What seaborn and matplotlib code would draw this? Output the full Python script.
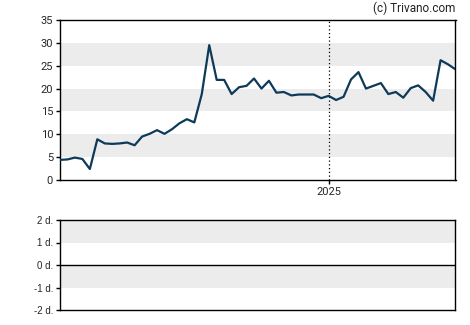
import matplotlib
matplotlib.use("Agg")
import matplotlib.pyplot as plt
import matplotlib.dates as mdates
import seaborn as sns
import pandas as pd
import numpy as np

values = [4.4, 4.5, 4.9, 4.6, 2.4, 8.9, 8.0, 7.9, 8.0, 8.2,
          7.6, 9.5, 10.1, 10.9, 10.1, 11.1, 12.4, 13.3, 12.6, 18.8,
          29.5, 21.9, 21.9, 18.8, 20.3, 20.6, 22.2, 20.0, 21.7, 19.1,
          19.25, 18.5, 18.7, 18.7, 18.7, 17.9, 18.4, 17.5, 18.2, 22.0,
          23.6, 20.0, 20.6, 21.2, 18.8, 19.25, 18.0, 20.1, 20.7, 19.25,
          17.35, 26.2, 25.3, 24.2]
start_date = "2024-04-24"
year_marker = "2025-01-01"
year_label = "2025"
y_ticks = [0, 5, 10, 15, 20, 25, 30, 35]
bands_top = [(5, 10), (15, 20), (25, 30)]
lower_ticks = [-2, -1, 0, 1, 2]
lower_labels = ["-2 d.", "-1 d.", "0 d.", "1 d.", "2 d."]
bands_bottom = [(1, 2), (-1, 0)]
credit = "(c) Trivano.com"

dates = pd.date_range(start=start_date, periods=len(values), freq="7D")
df = pd.DataFrame({"date": dates, "value": values})

sns.set_style("white")
plt.rcParams["font.family"] = ["Roboto", "DejaVu Sans"]

fig = plt.figure(figsize=(4.7, 3.25), dpi=100)
W, H = 470, 325
ax = fig.add_axes([60 / W, 1 - 180 / H, 395.5 / W, 160 / H])
ax2 = fig.add_axes([60 / W, 1 - 310 / H, 395.5 / W, 90 / H])

band_color = "#ececec"
for lo, hi in bands_top:
    ax.axhspan(lo, hi, color=band_color, lw=0, zorder=0)

sns.lineplot(data=df, x="date", y="value", ax=ax, color="#0e3a5a", lw=1.6, zorder=3)
ax.set_xlim(dates[0], dates[-1])
ax.set_ylim(0, 35)
ax.set_yticks(y_ticks)
ax.set_yticklabels([str(t) for t in y_ticks])
ym = pd.Timestamp(year_marker)
ax.axvline(ym, color="black", lw=0.9, ls=(0, (1, 2)), zorder=2)
ax.set_xticks([ym])
ax.set_xticklabels([year_label])
ax.set_xlabel("")
ax.set_ylabel("")
for s in ax.spines.values():
    s.set_color("black")
    s.set_linewidth(1.0)
ax.tick_params(axis="y", length=3, width=1, color="black", labelsize=8, pad=2, left=True)
ax.tick_params(axis="x", length=3, width=1, color="black", labelsize=8, pad=2, bottom=True)
ax.grid(False)

fig.text(455 / W, 1 - 8 / H, credit, ha="right", va="center", fontsize=8.5, color="#222222")

for lo, hi in bands_bottom:
    ax2.axhspan(lo, hi, color=band_color, lw=0, zorder=0)
ax2.axhline(0, color="black", lw=1.0, zorder=2)
ax2.set_ylim(-2, 2)
ax2.set_xlim(0, 1)
ax2.set_yticks(lower_ticks)
ax2.set_yticklabels(lower_labels, fontfamily=["Liberation Sans", "DejaVu Sans"])
ax2.set_xticks([])
for s in ax2.spines.values():
    s.set_color("black")
    s.set_linewidth(1.0)
ax2.tick_params(axis="y", length=3, width=1, color="black", labelsize=7, pad=2, left=True)
ax2.grid(False)

fig.savefig("out.png", dpi=100)
